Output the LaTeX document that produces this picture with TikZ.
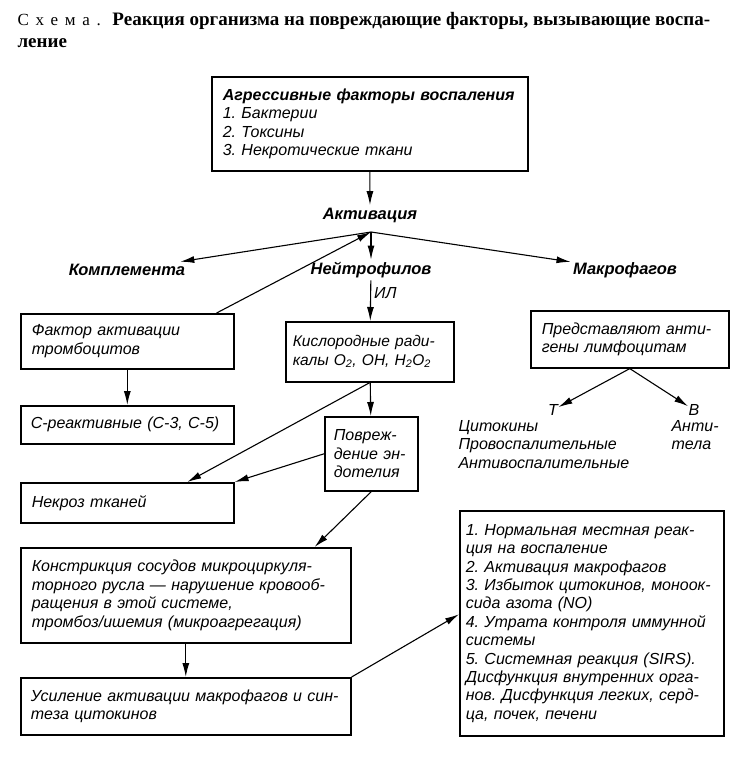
\documentclass[tikz,border=0pt]{standalone}
\usepackage{fontspec}
\setmainfont{Liberation Sans}
\newfontfamily\titlefont{Liberation Serif}
\newfontfamily\spacedfont[LetterSpace=40]{Liberation Serif}
\usetikzlibrary{arrows.meta,positioning}
\frenchspacing

\begin{document}
\begin{tikzpicture}[x=1pt,y=-1pt,>={Latex[length=14pt,width=7pt]},line width=1.1pt,
 box/.style={draw,line width=1.6pt,anchor=north west,align=left,inner xsep=11pt,inner ysep=0pt,
  font=\fontsize{16}{18.4}\selectfont\itshape},
 word/.style={font=\fontsize{16.5}{18.4}\selectfont\bfseries\itshape,inner sep=2pt},
 plain/.style={font=\fontsize{16}{18.4}\selectfont\itshape,align=left,inner sep=0pt}]

 \path[use as bounding box,fill=white] (0,0) rectangle (740,764);

 \node[anchor=north west,align=left,inner sep=0pt,font=\fontsize{19}{22}\titlefont] (title) at (17,12)
  {{\spacedfont\fontsize{17}{22}\selectfont Схема.}\ \textbf{Реакция организма на повреждающие факторы, вызывающие воспа-}\\\textbf{ление}};

 \node[box,text width=294,minimum height=94] (fact) at (211,76)
  {\textbf{Агрессивные факторы воспаления}\\1. Бактерии\\2. Токсины\\3. Некротические ткани};
 \node[word] (act) at (370,215) {Активация};
 \coordinate (hub) at (371,232);
 \node[word] (kompl) at (127,270) {Комплемента};
 \node[word] (neutro) at (371,270) {Нейтрофилов};
 \node[word] (macro) at (625,270) {Макрофагов};

 \node[box,text width=191,minimum height=55] (factor) at (20,313) {Фактор активации\\тромбоцитов};
 \node[box,text width=193,inner xsep=10pt,minimum height=38] (crp) at (20,405) {С-реактивные (С-3, С-5)};
 \node[box,text width=154,inner xsep=7pt,minimum height=60,font=\fontsize{15.5}{18.4}\selectfont\itshape] (oxy) at (285,321)
  {Кислородные ради-\\калы O\textsubscript{2}, OH, H\textsubscript{2}O\textsubscript{2}};
 \node[box,text width=75,inner xsep=9pt,minimum height=74] (endo) at (324,416) {Повреж-\\дение эн-\\дотелия};
 \node[box,text width=191,minimum height=40] (necro) at (20,482) {Некроз тканей};
 \node[box,text width=308,minimum height=95] (constr) at (20,547)
  {Констрикция сосудов микроциркуля-\\торного русла --- нарушение кровооб-\\ращения в этой системе,\\тромбоз/ишемия (микроагрегация)};
 \node[box,text width=310,inner xsep=10pt,minimum height=57] (amp) at (20,677)
  {Усиление активации макрофагов и син-\\теза цитокинов};
 \node[box,text width=252,inner xsep=6pt,minimum height=225] (list) at (459,510)
  {1. Нормальная местная реак-\\ция на воспаление\\2. Активация макрофагов\\3. Избыток цитокинов, моноок-\\сида азота (NO)\\4. Утрата контроля иммунной\\системы\\5. Системная реакция (SIRS).\\Дисфункция внутренних орга-\\нов. Дисфункция легких, серд-\\ца, почек, печени};
 \node[box,text width=176,minimum height=57] (antigen) at (530,310) {Представляют анти-\\гены лимфоцитам};
 \node[plain] (tcell) at (553,410) {Т};
 \node[plain] (bcell) at (694,410) {В};
 \node[plain,anchor=north west] (cyto) at (458,420) {Цитокины\\Провоспалительные\\Антивоспалительные};
 \node[plain,anchor=north west] (antib) at (671,420) {Анти-\\тела};

 \path[->]
  (fact) edge (act)
  (hub) edge (kompl)
  (hub) edge (neutro)
  (hub) edge (macro)
  (neutro) edge node[plain,right=3pt,pos=.3] {ИЛ} (oxy)
  ([xshift=-18pt]factor.north east) edge (hub)
  (factor) edge (crp)
  (oxy) edge (endo)
  (oxy.south) edge ([xshift=60pt]necro.north)
  (endo.west) edge (necro.north east)
  (endo.south) edge ([xshift=-37pt]constr.north east)
  (constr) edge (amp)
  (amp.north east) edge ([yshift=9pt]list.west)
  (antigen.south) edge (tcell)
  (antigen.south) edge (bcell);
\end{tikzpicture}
\end{document}
